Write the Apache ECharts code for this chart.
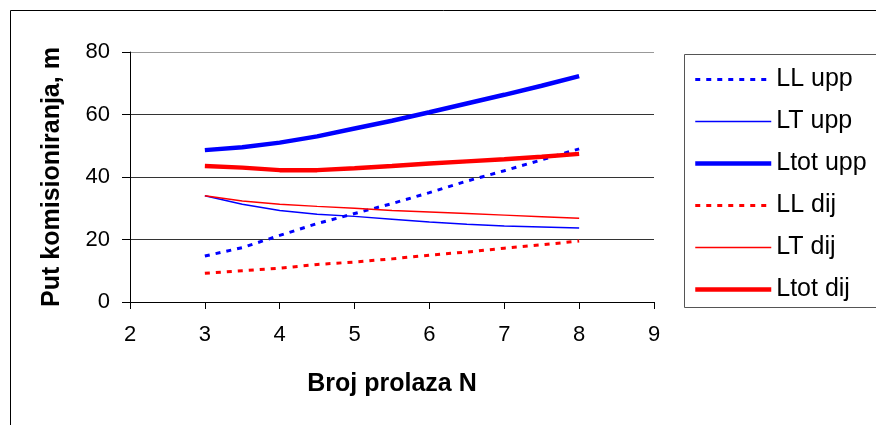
<!DOCTYPE html>
<html>
<head>
<meta charset="utf-8">
<script src="https://cdn.jsdelivr.net/npm/echarts@6/dist/echarts.min.js"></script>
<style>
  html, body { margin: 0; padding: 0; background: #fff; }
  #chart { width: 876px; height: 425px; }
</style>
</head>
<body>
<div id="chart"></div>
<script>
const brojProlaza = [3, 3.5, 4, 4.5, 5, 5.5, 6, 6.5, 7, 7.5, 8];
const llUpp = [14.7, 17.4, 21.3, 25.1, 28.3, 31.5, 35, 38.7, 42, 45.5, 49];
const ltUpp = [34, 31.3, 29.3, 28.1, 27.4, 26.5, 25.6, 24.9, 24.3, 24, 23.7];
const ltotUpp = [48.6, 49.5, 51, 53, 55.5, 58, 60.7, 63.5, 66.3, 69.2, 72.3];
const llDij = [9.2, 10, 10.8, 12, 12.8, 13.8, 15, 16, 17.2, 18.3, 19.5];
const ltDij = [34, 32.3, 31.3, 30.6, 30, 29.3, 28.8, 28.3, 27.8, 27.3, 26.8];
const ltotDij = [43.5, 43, 42.2, 42.2, 42.8, 43.5, 44.3, 45, 45.7, 46.5, 47.4];

const font = "'Liberation Sans', Arial, sans-serif";
const chart = echarts.init(document.getElementById("chart"));

const pairs = (vals) => brojProlaza.map((n, i) => [n, vals[i]]);
const styles = {
  "LL upp": { color: "#0000ff", width: 3, type: [5, 6] },
  "LT upp": { color: "#0000ff", width: 1.5, type: "solid" },
  "Ltot upp": { color: "#0000ff", width: 4.5, type: "solid" },
  "LL dij": { color: "#ff0000", width: 3, type: [5, 6] },
  "LT dij": { color: "#ff0000", width: 1.5, type: "solid" },
  "Ltot dij": { color: "#ff0000", width: 4.5, type: "solid" },
};
const makeSeries = (name, vals) => ({
  name: name,
  type: "line",
  data: pairs(vals),
  symbol: "none",
  silent: true,
  animation: false,
  itemStyle: { color: styles[name].color },
  lineStyle: styles[name],
});
const legendItem = (name) => ({
  name: name,
  itemStyle: { opacity: 0 },
  lineStyle: {
    color: styles[name].color,
    width: styles[name].width,
    type: styles[name].type,
  },
});

chart.setOption({
  animation: false,
  backgroundColor: "#fff",
  graphic: [
    {
      type: "rect",
      shape: { x: 10.5, y: 10.5, width: 900, height: 500 },
      style: { fill: "none", stroke: "#000", lineWidth: 1 },
    },
    {
      type: "rect",
      shape: { x: 684.5, y: 54.5, width: 200, height: 253 },
      style: { fill: "none", stroke: "#555", lineWidth: 1 },
    },
  ],
  grid: {
    left: 130,
    right: 222,
    top: 52,
    bottom: 123,
  },
  legend: {
    orient: "vertical",
    left: 693,
    top: 67,
    padding: 0,
    itemWidth: 76,
    itemHeight: 20,
    itemGap: 17,
    textStyle: { fontSize: 25, color: "#000", fontFamily: font },
    data: ["LL upp", "LT upp", "Ltot upp", "LL dij", "LT dij", "Ltot dij"].map(legendItem),
  },
  xAxis: {
    type: "value",
    min: 2,
    max: 9,
    interval: 1,
    name: "Broj prolaza N",
    nameLocation: "middle",
    nameGap: 70,
    nameTextStyle: { fontSize: 25, fontWeight: "bold", color: "#000", fontFamily: font },
    axisLine: { lineStyle: { color: "#000", width: 1 } },
    axisTick: { show: true, length: 7, lineStyle: { color: "#000" } },
    axisLabel: { fontSize: 22, color: "#000", margin: 22, fontFamily: font },
    splitLine: { show: false },
  },
  yAxis: {
    type: "value",
    min: 0,
    max: 80,
    interval: 20,
    name: "Put komisioniranja, m",
    nameLocation: "middle",
    nameGap: 65,
    nameRotate: 90,
    nameTextStyle: { fontSize: 25, fontWeight: "bold", color: "#000", fontFamily: font },
    axisLine: { show: true, lineStyle: { color: "#000", width: 1 } },
    axisTick: { show: true, length: 8, lineStyle: { color: "#000" } },
    axisLabel: { fontSize: 22, color: "#000", margin: 20, fontFamily: font },
    splitLine: {
      show: true,
      lineStyle: { color: ["#333", "#333", "#333", "#333", "#999"], width: 1 },
    },
  },
  series: [
    makeSeries("LL upp", llUpp),
    makeSeries("LT upp", ltUpp),
    makeSeries("Ltot upp", ltotUpp),
    makeSeries("LL dij", llDij),
    makeSeries("LT dij", ltDij),
    makeSeries("Ltot dij", ltotDij),
  ],
});
window.addEventListener("resize", () => {
  chart.resize();
});
</script>
</body>
</html>
